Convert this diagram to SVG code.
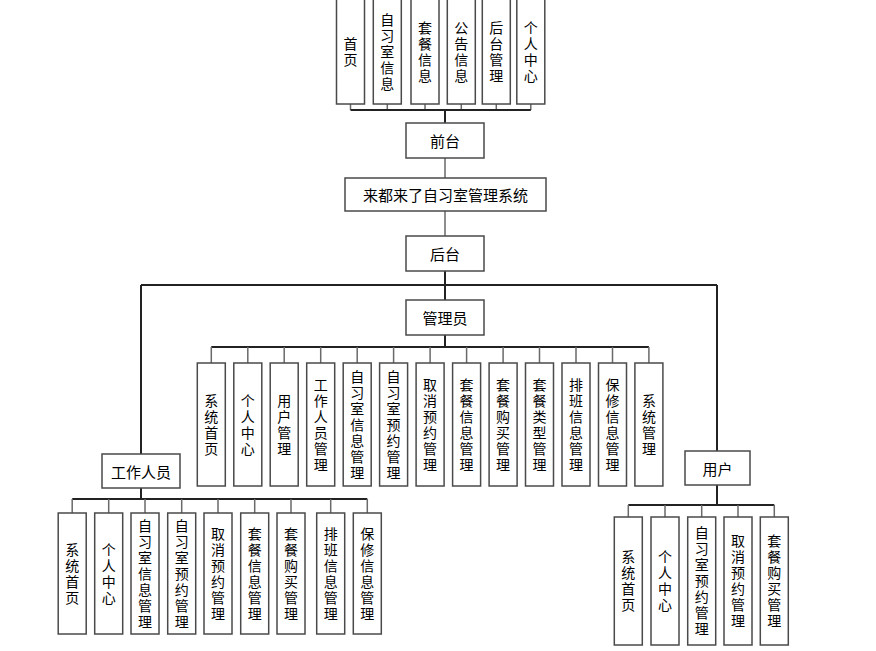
<svg xmlns="http://www.w3.org/2000/svg" width="876" height="651" viewBox="0 0 876 651">
<style>
.b{fill:#fff;stroke:#4a4a4a;stroke-width:1.5}
.t{font-family:"Noto Sans CJK SC","Liberation Sans",sans-serif;font-size:14px;fill:#000;text-anchor:middle;dominant-baseline:central}
.h{font-size:15px}
.v{writing-mode:vertical-rl;text-orientation:upright;letter-spacing:2px}
.dk{fill:none;stroke:#222;stroke-width:2}
.lt{fill:none;stroke:#6a6a6a;stroke-width:1.5}
</style>
<rect width="876" height="651" fill="#fff"/>
<g id="connectors">
<path class="lt" d="M350.5 104V110M387.3 104V110M425 104V110M461.3 104V110M496.3 104V110M530.8 104V110"/>
<path class="dk" d="M350.5 110H530.8M445 110V123"/>
<path class="lt" d="M445 158V178M445 211V236"/>
<path class="dk" d="M445 271V300M141 285H717M141 285V454M717 285V451"/>
<path class="dk" d="M445 335V347M211.3 347H648.9"/>
<path class="lt" d="M211.3 347V363M247.8 347V363M284.2 347V363M320.7 347V363M357.2 347V363M393.6 347V363M430.1 347V363M466.6 347V363M503.1 347V363M539.5 347V363M576 347V363M612.5 347V363M648.9 347V363"/>
<path class="dk" d="M141 488V499M72.2 499H367.3"/>
<path class="lt" d="M72.2 499V513M108.7 499V513M145 499V513M181.7 499V513M218 499V513M254.7 499V513M291 499V513M330.7 499V513M367.3 499V513"/>
<path class="dk" d="M717 485V505M628.3 505H774.3"/>
<path class="lt" d="M628.3 505V517M665 505V517M701.7 505V517M738 505V517M774.3 505V517"/>
</g>
<g id="f1"><rect class="b" x="336.5" y="-1" width="28" height="105"/><text class="t v" x="350.5" y="53">首页</text></g>
<g id="f2"><rect class="b" x="373.3" y="-1" width="28" height="105"/><text class="t v" x="387.3" y="53">自习室信息</text></g>
<g id="f3"><rect class="b" x="411" y="-1" width="28" height="105"/><text class="t v" x="425" y="53">套餐信息</text></g>
<g id="f4"><rect class="b" x="447.3" y="-1" width="28" height="105"/><text class="t v" x="461.3" y="53">公告信息</text></g>
<g id="f5"><rect class="b" x="482.3" y="-1" width="28" height="105"/><text class="t v" x="496.3" y="53">后台管理</text></g>
<g id="f6"><rect class="b" x="516.8" y="-1" width="28" height="105"/><text class="t v" x="530.8" y="53">个人中心</text></g>
<g id="qiantai"><rect class="b" x="406" y="123" width="78" height="35"/><text class="t h" x="445" y="140.5">前台</text></g>
<g id="system"><rect class="b" x="345" y="178" width="201" height="33"/><text class="t h" x="445.5" y="194.5">来都来了自习室管理系统</text></g>
<g id="houtai"><rect class="b" x="406" y="236" width="78" height="35"/><text class="t h" x="445" y="253.5">后台</text></g>
<g id="admin"><rect class="b" x="406" y="300" width="78" height="35"/><text class="t h" x="445" y="317.5">管理员</text></g>
<g id="staff"><rect class="b" x="102" y="454" width="78" height="34"/><text class="t h" x="141" y="471">工作人员</text></g>
<g id="user"><rect class="b" x="685" y="451" width="65" height="34"/><text class="t h" x="717.5" y="468">用户</text></g>
<g id="a1"><rect class="b" x="197.3" y="363" width="28" height="123"/><text class="t v" x="211.3" y="425.5">系统首页</text></g>
<g id="a2"><rect class="b" x="233.8" y="363" width="28" height="123"/><text class="t v" x="247.8" y="425.5">个人中心</text></g>
<g id="a3"><rect class="b" x="270.2" y="363" width="28" height="123"/><text class="t v" x="284.2" y="425.5">用户管理</text></g>
<g id="a4"><rect class="b" x="306.7" y="363" width="28" height="123"/><text class="t v" x="320.7" y="425.5">工作人员管理</text></g>
<g id="a5"><rect class="b" x="343.2" y="363" width="28" height="123"/><text class="t v" x="357.2" y="425.5">自习室信息管理</text></g>
<g id="a6"><rect class="b" x="379.6" y="363" width="28" height="123"/><text class="t v" x="393.6" y="425.5">自习室预约管理</text></g>
<g id="a7"><rect class="b" x="416.1" y="363" width="28" height="123"/><text class="t v" x="430.1" y="425.5">取消预约管理</text></g>
<g id="a8"><rect class="b" x="452.6" y="363" width="28" height="123"/><text class="t v" x="466.6" y="425.5">套餐信息管理</text></g>
<g id="a9"><rect class="b" x="489.1" y="363" width="28" height="123"/><text class="t v" x="503.1" y="425.5">套餐购买管理</text></g>
<g id="a10"><rect class="b" x="525.5" y="363" width="28" height="123"/><text class="t v" x="539.5" y="425.5">套餐类型管理</text></g>
<g id="a11"><rect class="b" x="562" y="363" width="28" height="123"/><text class="t v" x="576" y="425.5">排班信息管理</text></g>
<g id="a12"><rect class="b" x="598.5" y="363" width="28" height="123"/><text class="t v" x="612.5" y="425.5">保修信息管理</text></g>
<g id="a13"><rect class="b" x="634.9" y="363" width="28" height="123"/><text class="t v" x="648.9" y="425.5">系统管理</text></g>
<g id="s1"><rect class="b" x="58.2" y="513" width="28" height="121"/><text class="t v" x="72.2" y="574.5">系统首页</text></g>
<g id="s2"><rect class="b" x="94.7" y="513" width="28" height="121"/><text class="t v" x="108.7" y="574.5">个人中心</text></g>
<g id="s3"><rect class="b" x="131" y="513" width="28" height="121"/><text class="t v" x="145" y="574.5">自习室信息管理</text></g>
<g id="s4"><rect class="b" x="167.7" y="513" width="28" height="121"/><text class="t v" x="181.7" y="574.5">自习室预约管理</text></g>
<g id="s5"><rect class="b" x="204" y="513" width="28" height="121"/><text class="t v" x="218" y="574.5">取消预约管理</text></g>
<g id="s6"><rect class="b" x="240.7" y="513" width="28" height="121"/><text class="t v" x="254.7" y="574.5">套餐信息管理</text></g>
<g id="s7"><rect class="b" x="277" y="513" width="28" height="121"/><text class="t v" x="291" y="574.5">套餐购买管理</text></g>
<g id="s8"><rect class="b" x="316.7" y="513" width="28" height="121"/><text class="t v" x="330.7" y="574.5">排班信息管理</text></g>
<g id="s9"><rect class="b" x="353.3" y="513" width="28" height="121"/><text class="t v" x="367.3" y="574.5">保修信息管理</text></g>
<g id="u1"><rect class="b" x="614.3" y="517" width="28" height="128"/><text class="t v" x="628.3" y="582">系统首页</text></g>
<g id="u2"><rect class="b" x="651" y="517" width="28" height="128"/><text class="t v" x="665" y="582">个人中心</text></g>
<g id="u3"><rect class="b" x="687.7" y="517" width="28" height="128"/><text class="t v" x="701.7" y="582">自习室预约管理</text></g>
<g id="u4"><rect class="b" x="724" y="517" width="28" height="128"/><text class="t v" x="738" y="582">取消预约管理</text></g>
<g id="u5"><rect class="b" x="760.3" y="517" width="28" height="128"/><text class="t v" x="774.3" y="582">套餐购买管理</text></g>
</svg>
